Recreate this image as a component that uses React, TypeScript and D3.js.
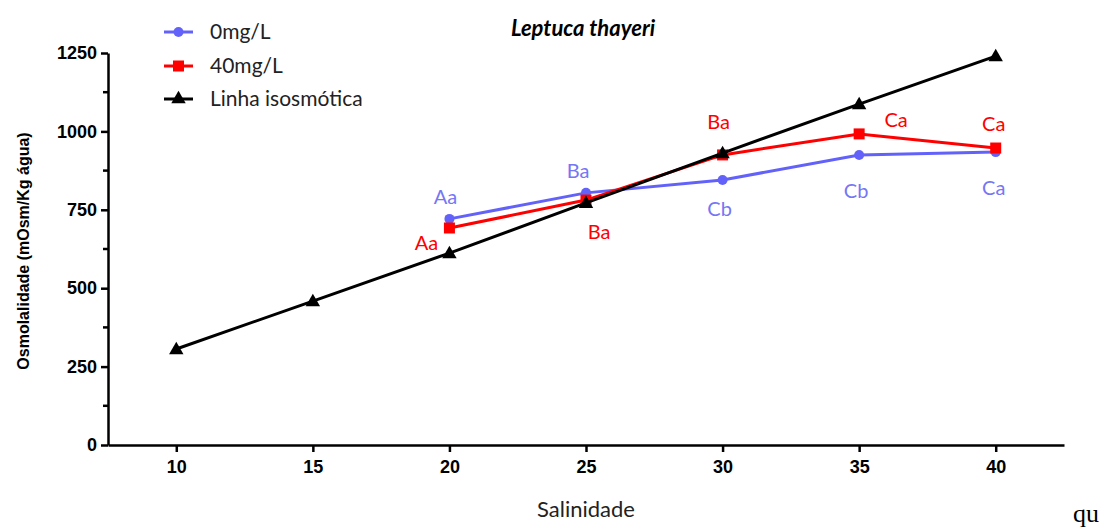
import { useEffect, useRef } from "react";
import * as d3 from "d3";

const salinity = [10, 15, 20, 25, 30, 35, 40];
const isoValues = [306, 459, 612, 772, 931, 1087, 1240];

const salinityTreat = [20, 25, 30, 35, 40];
const ctrlValues = [721, 804, 845, 925, 934];
const treatValues = [692, 781, 925, 992, 947];

const ctrlLabels = ["Aa", "Ba", "Cb", "Cb", "Ca"];
const treatLabels = ["Aa", "Ba", "Ba", "Ca", "Ca"];

const xTicks = [10, 15, 20, 25, 30, 35, 40];
const yTicks = [0, 250, 500, 750, 1000, 1250];
const yMinorTicks = [125, 375, 625, 875, 1125];

const BLUE = "#6262fa";
const BLUE_TEXT = "#7676f5";
const RED = "#ff0000";
const TEXT_FONT = "Lato, 'Open Sans', sans-serif";
const AXIS_FONT = "'Liberation Sans', Arial, sans-serif";

const App = () => {
  const svgRef = useRef<SVGSVGElement>(null);

  useEffect(() => {
    const svg = d3.select(svgRef.current);
    svg.selectAll("*").remove();

    const left = 108;
    const right = 1064;
    const top = 53;
    const bottom = 445;

    const x = d3.scaleLinear().domain([7.5, 42.5]).range([left, right]);
    const y = d3.scaleLinear().domain([0, 1250]).range([bottom, top]);

    // axes
    const yAxis = svg
      .append("g")
      .attr("transform", `translate(${left},0)`)
      .call(
        d3
          .axisLeft(y)
          .tickValues(yTicks)
          .tickFormat(d3.format("d"))
          .tickSize(7)
          .tickSizeOuter(0)
          .tickPadding(4)
      );
    yAxis.selectAll(".domain").attr("stroke", "#000").attr("stroke-width", 2.5);
    yAxis.selectAll(".tick line").attr("stroke", "#000").attr("stroke-width", 2.5);
    yAxis
      .selectAll("text")
      .attr("font-family", AXIS_FONT)
      .attr("font-weight", "bold")
      .attr("font-size", 18)
      .attr("fill", "#000");

    svg
      .append("g")
      .selectAll("line")
      .data(yMinorTicks)
      .enter()
      .append("line")
      .attr("x1", left - 5)
      .attr("x2", left)
      .attr("y1", (d) => y(d))
      .attr("y2", (d) => y(d))
      .attr("stroke", "#000")
      .attr("stroke-width", 2.5);

    const xAxis = svg
      .append("g")
      .attr("transform", `translate(0,${bottom})`)
      .call(
        d3
          .axisBottom(x)
          .tickValues(xTicks)
          .tickFormat(d3.format("d"))
          .tickSize(7)
          .tickSizeOuter(0)
          .tickPadding(8)
      );
    xAxis.selectAll(".domain").attr("stroke", "#000").attr("stroke-width", 2.5);
    xAxis.selectAll(".tick line").attr("stroke", "#000").attr("stroke-width", 2.5);
    xAxis
      .selectAll("text")
      .attr("font-family", AXIS_FONT)
      .attr("font-weight", "bold")
      .attr("font-size", 18)
      .attr("fill", "#000");

    // axis titles
    svg
      .append("text")
      .attr("transform", `translate(29,${(top + bottom) / 2 + 2}) rotate(-90)`)
      .attr("text-anchor", "middle")
      .attr("font-family", AXIS_FONT)
      .attr("font-weight", "bold")
      .attr("font-size", 16)
      .text("Osmolalidade (mOsm/Kg água)");

    svg
      .append("text")
      .attr("x", 586)
      .attr("y", 517)
      .attr("text-anchor", "middle")
      .attr("font-family", TEXT_FONT)
      .attr("font-size", 22)
      .attr("fill", "#222")
      .text("Salinidade");

    svg
      .append("text")
      .attr("x", 583)
      .attr("y", 36)
      .attr("text-anchor", "middle")
      .attr("font-family", TEXT_FONT)
      .attr("font-weight", "bold")
      .attr("font-style", "italic")
      .attr("font-size", 22)
      .text("Leptuca thayeri");

    svg
      .append("text")
      .attr("x", 1073)
      .attr("y", 522)
      .attr("font-family", "'Liberation Serif', 'Times New Roman', serif")
      .attr("font-size", 26)
      .text("qu");

    const line = d3
      .line<[number, number]>()
      .x((d) => x(d[0]))
      .y((d) => y(d[1]));

    const ctrl = salinityTreat.map((s, i) => [s, ctrlValues[i]] as [number, number]);
    const treat = salinityTreat.map((s, i) => [s, treatValues[i]] as [number, number]);
    const iso = salinity.map((s, i) => [s, isoValues[i]] as [number, number]);

    const tri = d3.symbol().type(d3.symbolTriangle).size(90);

    // 0mg/L
    svg.append("path").attr("d", line(ctrl)).attr("fill", "none").attr("stroke", BLUE).attr("stroke-width", 3);
    svg
      .selectAll(".ctrl-pt")
      .data(ctrl)
      .enter()
      .append("circle")
      .attr("class", "ctrl-pt")
      .attr("cx", (d) => x(d[0]))
      .attr("cy", (d) => y(d[1]))
      .attr("r", 5)
      .attr("fill", BLUE);

    // 40mg/L
    svg.append("path").attr("d", line(treat)).attr("fill", "none").attr("stroke", RED).attr("stroke-width", 3);
    svg
      .selectAll(".treat-pt")
      .data(treat)
      .enter()
      .append("rect")
      .attr("class", "treat-pt")
      .attr("x", (d) => x(d[0]) - 5.5)
      .attr("y", (d) => y(d[1]) - 5.5)
      .attr("width", 11)
      .attr("height", 11)
      .attr("fill", RED);

    // isosmotic
    svg.append("path").attr("d", line(iso)).attr("fill", "none").attr("stroke", "#000").attr("stroke-width", 3);
    svg
      .selectAll(".iso-pt")
      .data(iso)
      .enter()
      .append("path")
      .attr("class", "iso-pt")
      .attr("d", tri)
      .attr("transform", (d) => `translate(${x(d[0])},${y(d[1]) + 1})`)
      .attr("fill", "#000");

    // letter labels
    const ctrlOffsets = [
      [-4, -15],
      [-8, -15],
      [-3, 36],
      [-3, 43],
      [-2, 43],
    ];
    const treatOffsets = [
      [-23, 22],
      [13, 39],
      [-4, -26],
      [37, -7],
      [-2, -17],
    ];

    svg
      .selectAll(".ctrl-lab")
      .data(ctrl)
      .enter()
      .append("text")
      .attr("class", "ctrl-lab")
      .attr("x", (d, i) => x(d[0]) + ctrlOffsets[i][0])
      .attr("y", (d, i) => y(d[1]) + ctrlOffsets[i][1])
      .attr("text-anchor", "middle")
      .attr("font-family", TEXT_FONT)
      .attr("font-size", 20)
      .attr("fill", BLUE_TEXT)
      .text((d, i) => ctrlLabels[i]);

    svg
      .selectAll(".treat-lab")
      .data(treat)
      .enter()
      .append("text")
      .attr("class", "treat-lab")
      .attr("x", (d, i) => x(d[0]) + treatOffsets[i][0])
      .attr("y", (d, i) => y(d[1]) + treatOffsets[i][1])
      .attr("text-anchor", "middle")
      .attr("font-family", TEXT_FONT)
      .attr("font-size", 20)
      .attr("fill", RED)
      .text((d, i) => treatLabels[i]);

    // legend
    const legendData = [
      { label: "0mg/L", color: BLUE, shape: "circle" },
      { label: "40mg/L", color: RED, shape: "square" },
      { label: "Linha isosmótica", color: "#000", shape: "triangle" },
    ];
    const legendY = [32, 66, 99];

    const items = svg
      .selectAll(".legend-item")
      .data(legendData)
      .enter()
      .append("g")
      .attr("class", "legend-item")
      .attr("transform", (d, i) => `translate(164,${legendY[i]})`);

    items
      .append("line")
      .attr("x1", 0)
      .attr("x2", 29)
      .attr("stroke", (d) => d.color)
      .attr("stroke-width", 3);

    items.each(function (d) {
      const g = d3.select(this);
      if (d.shape === "circle") {
        g.append("circle").attr("cx", 14.5).attr("r", 5).attr("fill", d.color);
      } else if (d.shape === "square") {
        g.append("rect").attr("x", 9).attr("y", -5.5).attr("width", 11).attr("height", 11).attr("fill", d.color);
      } else {
        g.append("path").attr("d", tri).attr("transform", "translate(14.5,0)").attr("fill", d.color);
      }
    });

    items
      .append("text")
      .attr("x", 46)
      .attr("y", 7)
      .attr("font-family", TEXT_FONT)
      .attr("font-size", 21)
      .attr("fill", "#222")
      .text((d) => d.label);
  }, []);

  return (
    <svg
      ref={svgRef}
      width={1105}
      height={527}
      style={{ position: "absolute", left: 0, top: 0, background: "#fff" }}
    ></svg>
  );
};

export default App;
